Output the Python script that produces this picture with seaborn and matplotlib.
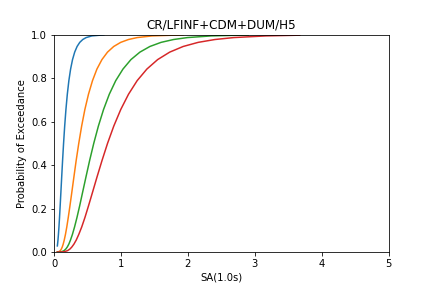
import matplotlib
matplotlib.use("Agg")
import matplotlib.pyplot as plt
import seaborn as sns
import pandas as pd

title = "CR/LFINF+CDM+DUM/H5"
x_label = "SA(1.0s)"
y_label = "Probability of Exceedance"

# Damage state 1 (blue)
ds1_x = [0.05, 0.0531, 0.0593, 0.0662, 0.0739, 0.0825, 0.0921, 0.1028, 0.1148, 0.1281,
         0.143, 0.1596, 0.1782, 0.1989, 0.2220, 0.2479, 0.2767, 0.3089, 0.3448, 0.3848,
         0.4296, 0.4796, 0.5657, 0.7446]
ds1_y = [0.028, 0.0359, 0.0548, 0.0808, 0.1151, 0.1587, 0.2119, 0.2743, 0.3446, 0.4207,
         0.5, 0.5793, 0.6554, 0.7257, 0.7881, 0.8413, 0.8849, 0.9192, 0.9452, 0.9641,
         0.9772, 0.9861, 0.9938, 0.99865]

# Damage state 2 (orange)
ds2_x = [0.05, 0.071, 0.094, 0.110, 0.123, 0.137, 0.153, 0.171, 0.191, 0.213, 0.238,
         0.266, 0.297, 0.331, 0.37, 0.413, 0.461, 0.515, 0.575, 0.641, 0.716, 0.799,
         0.892, 0.996, 1.112, 1.241, 1.464, 1.927]
ds2_y = [0.0001, 0.00135, 0.0062, 0.0139, 0.0228, 0.0359, 0.0548, 0.0808, 0.1151, 0.1587,
         0.2119, 0.2743, 0.3446, 0.4207, 0.5, 0.5793, 0.6554, 0.7257, 0.7881, 0.8413,
         0.8849, 0.9192, 0.9452, 0.9641, 0.9772, 0.9861, 0.9938, 0.99865]

# Damage state 3 (green)
ds3_x = [0.05, 0.114, 0.150, 0.177, 0.198, 0.221, 0.246, 0.275, 0.307, 0.343, 0.383,
         0.427, 0.477, 0.532, 0.594, 0.663, 0.740, 0.826, 0.922, 1.030, 1.149, 1.283,
         1.432, 1.599, 1.785, 1.992, 2.350, 2.900]
ds3_y = [0.0, 0.00135, 0.0062, 0.0139, 0.0228, 0.0359, 0.0548, 0.0808, 0.1151, 0.1587,
         0.2119, 0.2743, 0.3446, 0.4207, 0.5, 0.5793, 0.6554, 0.7257, 0.7881, 0.8413,
         0.8849, 0.9192, 0.9452, 0.9641, 0.9772, 0.9861, 0.9938, 0.9981]

# Damage state 4 (red)
ds4_x = [0.05, 0.10, 0.154, 0.202, 0.239, 0.266, 0.297, 0.332, 0.370, 0.414, 0.462,
         0.515, 0.575, 0.642, 0.717, 0.80, 0.893, 0.997, 1.113, 1.242, 1.387, 1.548,
         1.728, 1.929, 2.153, 2.403, 2.683, 3.164, 3.67]
ds4_y = [0.0, 0.0001, 0.00135, 0.0062, 0.0139, 0.0228, 0.0359, 0.0548, 0.0808, 0.1151,
         0.1587, 0.2119, 0.2743, 0.3446, 0.4207, 0.5, 0.5793, 0.6554, 0.7257, 0.7881,
         0.8413, 0.8849, 0.9192, 0.9452, 0.9641, 0.9772, 0.9861, 0.9938, 0.9972]

series = [("DS1", ds1_x, ds1_y), ("DS2", ds2_x, ds2_y),
          ("DS3", ds3_x, ds3_y), ("DS4", ds4_x, ds4_y)]
frames = [pd.DataFrame({"x": xs, "y": ys, "ds": name}) for name, xs, ys in series]
df = pd.concat(frames, ignore_index=True)

fig, ax = plt.subplots(figsize=(6, 4), dpi=72)
fig.subplots_adjust(left=0.125, right=0.9, bottom=0.125, top=0.88)
sns.lineplot(data=df, x="x", y="y", hue="ds", palette="tab10", legend=False,
             ax=ax, linewidth=1.5)
ax.set_xlim(0, 5)
ax.set_ylim(0, 1)
ax.set_title(title)
ax.set_xlabel(x_label)
ax.set_ylabel(y_label)
fig.savefig("out.png", dpi=72)
